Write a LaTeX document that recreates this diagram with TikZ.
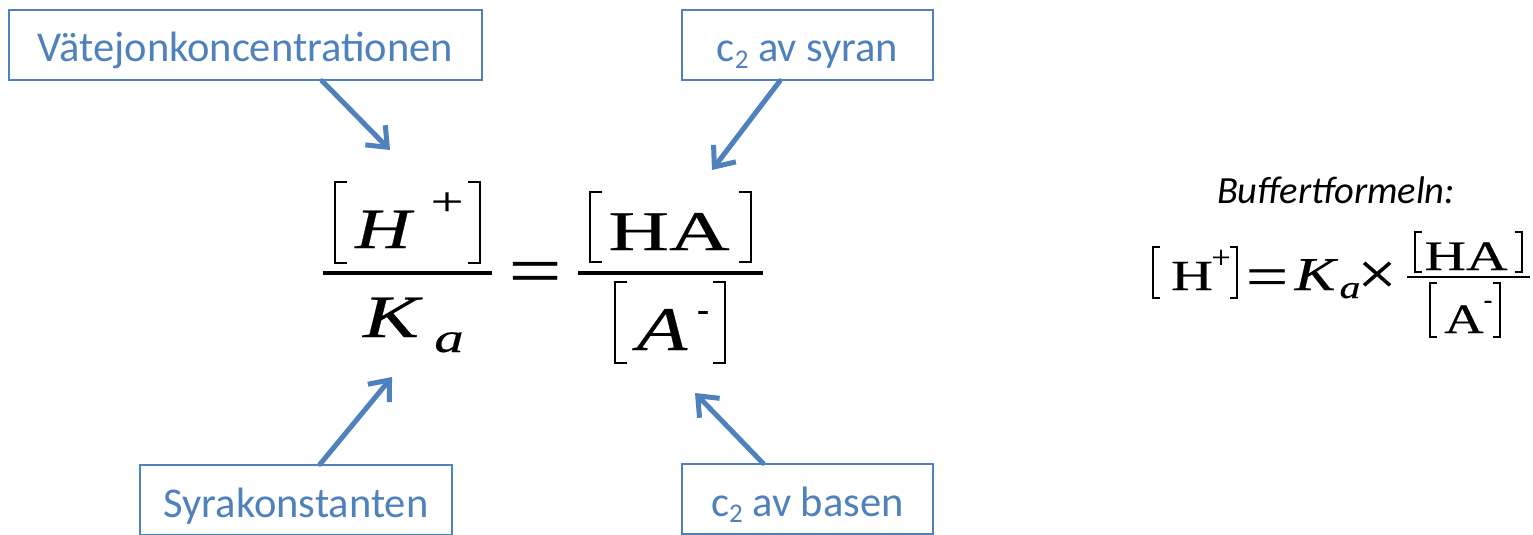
\documentclass[tikz,border=0pt]{standalone}
\usepackage{fontspec}
\usepackage{graphicx}
\usetikzlibrary{arrows.meta}
\newfontfamily\calib{Carlito}
\newfontfamily\tnr[FakeBold=0.35]{Liberation Serif}
\definecolor{ablue}{HTML}{4F81BD}
\newcommand\glyphtxt[3]{{\tnr\fontsize{#1}{#1}\selectfont\scalebox{#2}[1]{#3}}}
\tikzset{
  lbox/.style={draw=ablue, line width=1.5pt, text=ablue, inner sep=0pt,
    minimum height=70pt, text height=34pt, text depth=0pt,
    font=\calib\fontsize{42.5}{50}\selectfont},
  arr/.style={draw=ablue, line width=5pt, line cap=round,
    -{Straight Barb[length=17pt, width=28pt, line width=5pt]},
    preaction={draw=black, opacity=0.12, transform canvas={shift={(1.5pt,-2pt)}}}},
  glyph/.style={inner sep=0pt, outer sep=0pt, anchor=base},
  brk/.style={line width=2.8pt, line join=miter},
  brks/.style={line width=2pt, line join=miter},
}
\newcommand\subtwo{\raisebox{-6pt}{\fontsize{27}{30}\selectfont 2}}
\begin{document}
\begin{tikzpicture}[x=1pt, y=-1pt]
\useasboundingbox (0,0) rectangle (1533,535);
\fill[white] (0,0) rectangle (1533,535);
% label boxes
\node[lbox, minimum width=473pt] (b1) at (245.5,45) {Vätejonkoncentrationen};
\node[lbox, minimum width=251pt] (b2) at (807.5,45) {c\subtwo{} av syran};
\node[lbox, minimum width=312pt] (b3) at (296,500) {Syrakonstanten};
\node[lbox, minimum width=251pt] (b4) at (807.5,499) {c\subtwo{} av basen};
% arrow tips
\coordinate (t1) at (390,150);
\coordinate (t2) at (712,170);
\coordinate (t3) at (392,377);
\coordinate (t4) at (695,393);
\draw[arr] ([xshift=76.5pt]b1.south) -- (t1);
\draw[arr] ([xshift=-27.5pt]b2.south) -- (t2);
\draw[arr] ([xshift=24pt]b3.north) -- (t3);
\draw[arr] ([xshift=-44.5pt]b4.north) -- (t4);
% main formula
\draw[line width=4.5pt] (323,273) -- (492,273);
\draw[line width=4.5pt] (578,273) -- (763,273);
\draw[brk] (347,182) -- (335,182) -- (335,263) -- (347,263);
\draw[brk] (468,182) -- (480,182) -- (480,263) -- (468,263);
\draw[brk] (602,192) -- (590,192) -- (590,262) -- (602,262);
\draw[brk] (739,192) -- (751,192) -- (751,262) -- (739,262);
\draw[brk] (627,282) -- (615,282) -- (615,363) -- (627,363);
\draw[brk] (713,282) -- (725,282) -- (725,363) -- (713,363);
\node[glyph] (mH) at (383,248) {\glyphtxt{57}{1.35}{\itshape H}};
\node[glyph] (mplus) at (447,215) {\glyphtxt{40}{1.45}{+}};
\node[glyph] (mK) at (391,337) {\glyphtxt{60}{1.4}{\itshape K}};
\node[glyph] (ma) at (449,352) {\glyphtxt{42}{1.4}{\itshape a}};
\node[glyph] (meq) at (535,294) {\glyphtxt{70}{1.35}{=}};
\node[glyph] (mHA) at (669,250) {\glyphtxt{56}{1.5}{HA}};
\node[glyph] (mA) at (662,350) {\glyphtxt{62}{1.33}{\itshape A}};
\node[glyph] (mminus) at (703,321) {\glyphtxt{36}{1}{-}};
% buffer formula
\node[glyph, font=\calib\itshape\fontsize{38.5}{40}\selectfont] (bt) at (1336,203) {Buffertformeln:};
\draw[line width=2.5pt] (1407,277) -- (1530,277);
\draw[brks] (1160,247) -- (1153,247) -- (1153,298) -- (1160,298);
\draw[brks] (1230,247) -- (1237,247) -- (1237,298) -- (1230,298);
\draw[brks] (1422,232) -- (1415,232) -- (1415,272) -- (1422,272);
\draw[brks] (1515,232) -- (1522,232) -- (1522,272) -- (1515,272);
\draw[brks] (1437,283) -- (1430,283) -- (1430,337) -- (1437,337);
\draw[brks] (1493,283) -- (1500,283) -- (1500,337) -- (1493,337);
\node[glyph] (bH) at (1192,290) {\glyphtxt{43}{1.35}{H}};
\node[glyph] (bplus) at (1221,268) {\glyphtxt{32}{1.05}{+}};
\node[glyph] (beq) at (1267,296) {\glyphtxt{58}{1.3}{=}};
\node[glyph] (bK) at (1315,290) {\glyphtxt{47}{1.3}{\itshape K}};
\node[glyph] (ba) at (1350,298) {\glyphtxt{32}{1.3}{\itshape a}};
\node[glyph] (btimes) at (1377,294) {\glyphtxt{60}{1.15}{\char"00D7}};
\node[glyph] (bHA) at (1466,270) {\glyphtxt{42}{1.37}{HA}};
\node[glyph] (bA) at (1464,333) {\glyphtxt{42}{1.3}{A}};
\node[glyph] (bminus) at (1488,308) {\glyphtxt{26}{1}{-}};
\end{tikzpicture}
\end{document}
